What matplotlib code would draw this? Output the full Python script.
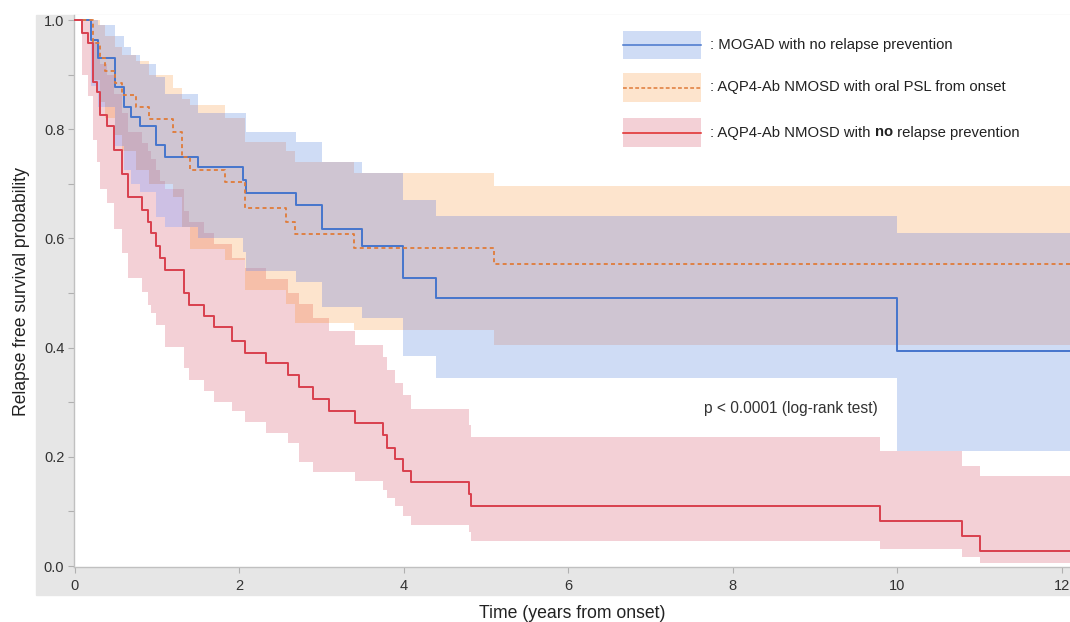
import numpy as np
import matplotlib
matplotlib.use("Agg")
import matplotlib.pyplot as plt
from matplotlib.patches import Rectangle
from matplotlib.lines import Line2D
from matplotlib.text import Annotation

# ---------------- data ----------------
# MOGAD with no relapse prevention
mog_t  = [0, 0.19, 0.28, 0.49, 0.59, 0.68, 0.79, 0.99, 1.10, 1.49, 2.04, 2.08, 2.69, 3.00, 3.49, 3.99, 4.39, 10.0]
mog_s  = [1.0, 0.963, 0.930, 0.878, 0.841, 0.823, 0.806, 0.771, 0.750, 0.730, 0.707, 0.684, 0.662, 0.617, 0.586, 0.528, 0.490, 0.394]
mog_lo = [1.0, 0.88, 0.84, 0.77, 0.725, 0.70, 0.685, 0.64, 0.62, 0.60, 0.575, 0.54, 0.52, 0.474, 0.455, 0.385, 0.344, 0.21]
mog_hi = [1.0, 1.0, 0.99, 0.97, 0.95, 0.935, 0.92, 0.895, 0.865, 0.83, 0.83, 0.795, 0.776, 0.74, 0.72, 0.67, 0.641, 0.61]

# AQP4-Ab NMOSD with oral PSL from onset
psl_t  = [0, 0.22, 0.30, 0.37, 0.49, 0.575, 0.74, 0.90, 1.19, 1.30, 1.40, 1.82, 2.07, 2.57, 2.67, 3.39, 5.09]
psl_s  = [1.0, 0.957, 0.930, 0.906, 0.885, 0.863, 0.841, 0.818, 0.795, 0.750, 0.725, 0.703, 0.655, 0.630, 0.608, 0.583, 0.554]
psl_lo = [1.0, 0.89, 0.85, 0.82, 0.79, 0.76, 0.725, 0.70, 0.675, 0.62, 0.58, 0.56, 0.505, 0.48, 0.445, 0.432, 0.405]
psl_hi = [1.0, 1.0, 0.99, 0.97, 0.95, 0.935, 0.925, 0.90, 0.875, 0.855, 0.845, 0.82, 0.776, 0.76, 0.74, 0.72, 0.696]

# AQP4-Ab NMOSD with no relapse prevention
aqp_t  = [0, 0.08, 0.16, 0.22, 0.27, 0.31, 0.385, 0.48, 0.567, 0.65, 0.81, 0.89, 0.93, 0.99, 1.03, 1.09,
          1.32, 1.39, 1.57, 1.69, 1.91, 2.07, 2.32, 2.59, 2.73, 2.90, 3.09, 3.41, 3.74, 3.79, 3.89, 3.99,
          4.09, 4.79, 4.82, 9.79, 10.79, 11.0]
aqp_s  = [1.0, 0.977, 0.957, 0.887, 0.869, 0.826, 0.805, 0.761, 0.718, 0.675, 0.652, 0.630, 0.609, 0.586, 0.565, 0.543,
          0.500, 0.478, 0.457, 0.437, 0.413, 0.391, 0.372, 0.350, 0.327, 0.305, 0.284, 0.261, 0.240, 0.217, 0.196, 0.174,
          0.153, 0.132, 0.109, 0.083, 0.055, 0.0275]
aqp_lo = [1.0, 0.90, 0.86, 0.78, 0.74, 0.69, 0.664, 0.618, 0.573, 0.527, 0.502, 0.478, 0.463, 0.441, 0.441, 0.402,
          0.362, 0.340, 0.321, 0.301, 0.283, 0.263, 0.244, 0.226, 0.190, 0.173, 0.173, 0.156, 0.139, 0.124, 0.109, 0.092,
          0.076, 0.063, 0.046, 0.031, 0.016, 0.005]
aqp_hi = [1.0, 1.0, 1.0, 0.96, 0.945, 0.92, 0.90, 0.865, 0.83, 0.795, 0.775, 0.76, 0.745, 0.725, 0.705, 0.69,
          0.65, 0.63, 0.61, 0.59, 0.565, 0.545, 0.525, 0.50, 0.48, 0.455, 0.43, 0.405, 0.383, 0.359, 0.336, 0.313,
          0.287, 0.258, 0.236, 0.21, 0.183, 0.164]

labels = [": MOGAD with no relapse prevention",
          ": AQP4-Ab NMOSD with oral PSL from onset",
          ": AQP4-Ab NMOSD with ", "no", " relapse prevention"]
x_ticks = [0, 2, 4, 6, 8, 10, 12]
y_ticks = [0.0, 0.2, 0.4, 0.6, 0.8, 1.0]
p_text = "p < 0.0001 (log-rank test)"
x_label = "Time (years from onset)"
y_label = "Relapse free survival probability"
T_END = 12.1

# ---------------- style ----------------
plt.rcParams['font.family'] = ['Liberation Sans', 'DejaVu Sans']
C_BLUE, C_ORANGE, C_RED = '#4675cc', '#e07b39', '#d9404e'
F_B, F_O, F_R = '#cfdcf5', '#fde4cd', '#f3d0d6'
F_BO, F_BR, F_OR, F_BOR = '#cfc5d2', '#cdc0e4', '#f6bfa9', '#c9aec0'

W, H = 1070, 622
fig = plt.figure(figsize=(W / 100, H / 100), dpi=100)
bg = Rectangle((36 / W, 1 - 595 / H), (W - 36) / W, (595 - 15) / H,
               transform=fig.transFigure, color='#e6e6e6', zorder=-10)
fig.patches.append(bg)
ax = fig.add_axes([74 / W, 1 - 567 / H, (W - 74) / W, (567 - 15) / H])
ax.set_zorder(1)
ax.set_facecolor('white')
ax.set_xlim(-1 / 82.27, T_END)
ax.set_ylim(-1 / 546, 1 + 5 / 546)

grid = np.array(sorted(set(mog_t) | set(psl_t) | set(aqp_t) | {T_END}))


def on_grid(t, v):
    idx = np.searchsorted(np.asarray(t), grid, side='right') - 1
    return np.asarray(v, dtype=float)[idx]


bands = {
    'B': (on_grid(mog_t, mog_lo), on_grid(mog_t, mog_hi)),
    'O': (on_grid(psl_t, psl_lo), on_grid(psl_t, psl_hi)),
    'R': (on_grid(aqp_t, aqp_lo), on_grid(aqp_t, aqp_hi)),
}
combos = [('B', F_B), ('O', F_O), ('R', F_R),
          ('BO', F_BO), ('BR', F_BR), ('OR', F_OR), ('BOR', F_BOR)]
for z, (keys, col) in enumerate(combos):
    lo = np.max([bands[k][0] for k in keys], axis=0)
    hi = np.min([bands[k][1] for k in keys], axis=0)
    ax.fill_between(grid, lo, np.maximum(hi, lo), step='post', color=col, lw=0, zorder=1 + z * 0.01)


def ext(t, s):
    return list(t) + [T_END], list(s) + [s[-1]]


tt, ss = ext(mog_t, mog_s)
ax.step(tt, ss, where='post', color=C_BLUE, lw=1.4, zorder=5)
tt, ss = ext(psl_t, psl_s)
ax.step(tt, ss, where='post', color=C_ORANGE, lw=1.3, dashes=(2.2, 1.8), zorder=5)
tt, ss = ext(aqp_t, aqp_s)
ax.step(tt, ss, where='post', color=C_RED, lw=1.4, zorder=5)

for sp in ['top', 'right']:
    ax.spines[sp].set_visible(False)
for sp in ['left', 'bottom']:
    ax.spines[sp].set_color('#c0c0c0')
    ax.spines[sp].set_linewidth(1.0)
ax.set_xticks(x_ticks)
ax.set_yticks(y_ticks)
ax.set_yticks(np.arange(0.1, 1.0, 0.2), minor=True)
ax.set_yticklabels([f"{v:.1f}" for v in y_ticks])
ax.tick_params(axis='both', which='both', color='#b0b0b0', length=4, width=0.8,
               labelsize=10.5, labelcolor='#333333')
ax.tick_params(axis='x', pad=5)
ax.tick_params(axis='y', pad=3)
ax.set_xlabel(x_label, fontsize=12.7, color='#222222', labelpad=8)
ax.set_ylabel(y_label, fontsize=12.7, color='#222222', labelpad=10)

ax.text((704 - 75) / 82.27, (566 - 409) / 546, p_text, fontsize=11.2, color='#333333',
        va='center', ha='left')


# ---------------- legend (drawn manually) ----------------
def fx(x):
    return x / W


def fy(y):
    return 1 - y / H


leg = [(31, 59, F_B, C_BLUE, '-'), (73, 102, F_O, C_ORANGE, '--'), (118, 147, F_R, '#e02828', '-')]
for (y0, y1, fc, lc, ls) in leg:
    fig.add_artist(Rectangle((fx(623), fy(y1)), fx(701) - fx(623), fy(y0) - fy(y1),
                             transform=fig.transFigure, color=fc, lw=0, zorder=5))
    ym = (y0 + y1) / 2
    ln = Line2D([fx(623), fx(701)], [fy(ym), fy(ym)], transform=fig.transFigure, color=lc, lw=1.1, zorder=6)
    if ls == '--':
        ln.set_dashes((2.5, 1.5))
    fig.add_artist(ln)

fs = 10.7
fig.text(fx(710), fy(45), labels[0], fontsize=fs, va='center', ha='left', color='#222222', zorder=6)
fig.text(fx(710), fy(87.5), labels[1], fontsize=fs, va='center', ha='left', color='#222222', zorder=6)
t1 = fig.text(fx(710), fy(132.5), labels[2], fontsize=fs, va='center', ha='left', color='#222222', zorder=6)
t2 = Annotation(labels[3], xy=(1, 0), xycoords=t1, va='bottom', ha='left', fontsize=fs,
                fontweight='bold', color='#222222', zorder=6)
fig.add_artist(t2)
t3 = Annotation(labels[4], xy=(1, 0), xycoords=t2, va='bottom', ha='left', fontsize=fs,
                color='#222222', zorder=6)
fig.add_artist(t3)

fig.savefig("out.png", dpi=100)
